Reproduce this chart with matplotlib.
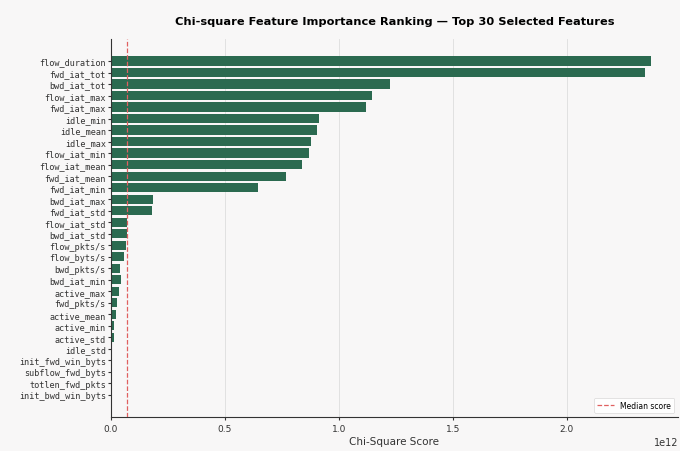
import numpy as np
import matplotlib
matplotlib.use("Agg")
import matplotlib.pyplot as plt

# top 30 features, chi-square scores (units of 1e12)
features = ["flow_duration", "fwd_iat_tot", "bwd_iat_tot", "flow_iat_max", "fwd_iat_max",
            "idle_min", "idle_mean", "idle_max", "flow_iat_min", "flow_iat_mean",
            "fwd_iat_mean", "fwd_iat_min", "bwd_iat_max", "fwd_iat_std", "flow_iat_std",
            "bwd_iat_std", "flow_pkts/s", "flow_byts/s", "bwd_pkts/s", "bwd_iat_min",
            "active_max", "fwd_pkts/s", "active_mean", "active_min", "active_std",
            "idle_std", "init_fwd_win_byts", "subflow_fwd_byts", "totlen_fwd_pkts",
            "init_bwd_win_byts"]
scores_e12 = [2.37, 2.345, 1.227, 1.144, 1.118,
              0.913, 0.904, 0.878, 0.869, 0.838,
              0.769, 0.646, 0.183, 0.180, 0.072,
              0.070, 0.065, 0.057, 0.040, 0.043,
              0.036, 0.028, 0.022, 0.012, 0.012,
              0.005, 0.0004, 0.0003, 0.0002, 0.0001]

scores = np.array(scores_e12) * 1e12
median = np.median(scores)

bg = "#f8f7f7"
fig, ax = plt.subplots(figsize=(6.8, 4.52), dpi=100)
fig.patch.set_facecolor(bg)
ax.set_facecolor(bg)
fig.subplots_adjust(left=0.163, right=0.997, top=0.911, bottom=0.076)

y = np.arange(len(features))
ax.barh(y, scores, height=0.8, color="#2b6a50", zorder=2)
ax.axvline(median, color="#e06060", linestyle="--", linewidth=0.9,
           label="Median score", zorder=3)

ax.set_yticks(y)
ax.set_yticklabels(features, fontsize=6.1, family="DejaVu Sans Mono")
ax.invert_yaxis()

ax.tick_params(axis="x", labelsize=6.5, length=2, colors="#333333")
ax.tick_params(axis="y", length=2, pad=1.5, colors="#333333")
ax.xaxis.get_offset_text().set_fontsize(7)
ax.grid(axis="x", color="#dddddd", linewidth=0.6, zorder=0)
ax.spines["top"].set_visible(False)
ax.spines["right"].set_visible(False)
for s in ["left", "bottom"]:
    ax.spines[s].set_color("#333333")
    ax.spines[s].set_linewidth(0.8)

ax.set_xlabel("Chi-Square Score", fontsize=7.5, color="#333333", labelpad=2)
ax.set_title("Chi-square Feature Importance Ranking \u2014 Top 30 Selected Features",
             fontsize=8.2, fontweight="bold", pad=11)
leg = ax.legend(loc="lower right", fontsize=5.5, framealpha=0.9, handlelength=2.2)
leg.get_frame().set_linewidth(0.4)

fig.savefig("out.png", dpi=100, facecolor=bg)
